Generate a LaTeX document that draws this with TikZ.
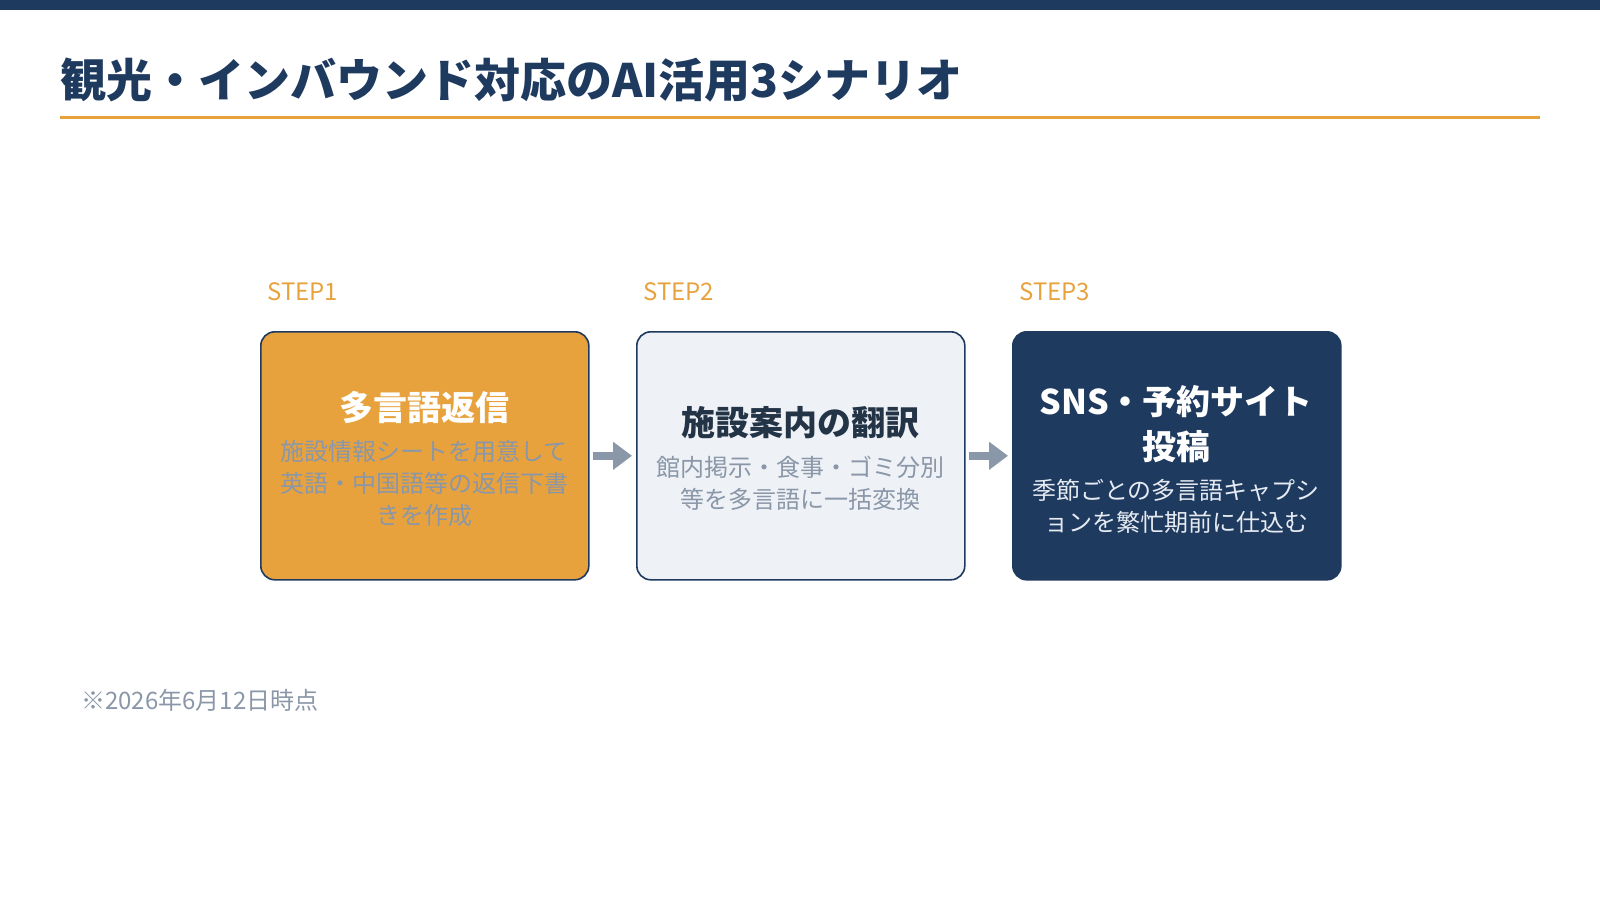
\documentclass[tikz,border=0pt]{standalone}
\usepackage{fontspec}
\setmainfont{Noto Sans CJK JP}
\usetikzlibrary{arrows.meta}
\definecolor{navy}{HTML}{1E3A5F}
\definecolor{accent}{HTML}{E8A23D}
\definecolor{graytxt}{HTML}{8A97A8}
\definecolor{lightfill}{HTML}{EEF1F6}
\definecolor{darktitle}{HTML}{243447}
\definecolor{lighttxt}{HTML}{E6EBF2}
\begin{document}
\begin{tikzpicture}[x=1pt,y=-1pt,
  card/.style={rounded corners=14pt, line width=1.6pt, draw=navy, minimum width=328pt, minimum height=248pt, anchor=north west, inner sep=0pt},
  steplabel/.style={anchor=west, inner sep=0pt, text=accent, font=\fontsize{24}{28}\selectfont},
  cardtitle/.style={inner sep=0pt, align=center, font=\fontsize{34}{45}\selectfont\bfseries},
  cardbody/.style={inner sep=0pt, align=center, font=\fontsize{24}{32}\selectfont},
  flow/.style={draw=graytxt, line width=8pt, -{Triangle[length=19pt,width=27pt]}}]
\useasboundingbox (0,0) rectangle (1600,900);
\fill[navy] (0,0) rectangle (1600,9.5);
\node[anchor=west, inner sep=0pt, text=navy, font=\fontsize{46}{54}\selectfont\bfseries] (title) at (60,80) {観光・インバウンド対応のAI活用3シナリオ};
\coordinate (ruleL) at (60,117);
\coordinate (ruleR) at (1540,117);
\draw[accent, line width=3pt] (ruleL) -- (ruleR);

\node[steplabel] (s1) at (267,292) {STEP1};
\node[steplabel] (s2) at (643,292) {STEP2};
\node[steplabel] (s3) at (1019,292) {STEP3};

\node[card, fill=accent] (b1) at (260,331) {};
\node[card, fill=lightfill] (b2) at (636,331) {};
\node[card, fill=navy] (b3) at (1012,331) {};

\node[cardtitle, text=white] (t1) at (424,408) {多言語返信};
\node[cardbody, text=graytxt] (d1) at (424,483.5) {施設情報シートを用意して\\英語・中国語等の返信下書\\きを作成};

\node[cardtitle, text=darktitle] (t2) at (800,423) {施設案内の翻訳};
\node[cardbody, text=graytxt] (d2) at (800,483.5) {館内掲示・食事・ゴミ分別\\等を多言語に一括変換};

\node[cardtitle, text=white] (t3) at (1176,424) {SNS・予約サイト\\投稿};
\node[cardbody, text=lighttxt] (d3) at (1176,506) {季節ごとの多言語キャプシ\\ョンを繁忙期前に仕込む};

\draw[flow] ([xshift=3pt]b1.east) -- ([xshift=-4pt]b2.west);
\draw[flow] ([xshift=3pt]b2.east) -- ([xshift=-4pt]b3.west);

\node[anchor=west, inner sep=0pt, text=graytxt, font=\fontsize{24}{28}\selectfont] (note) at (81,700) {※2026年6月12日時点};
\end{tikzpicture}
\end{document}
